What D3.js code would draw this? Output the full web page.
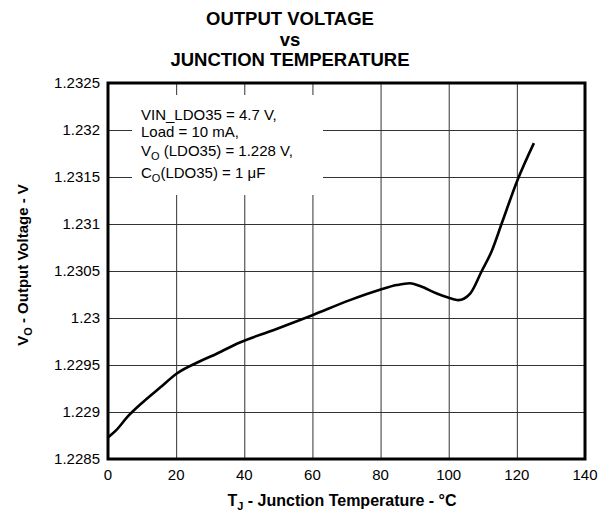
<!DOCTYPE html>
<html>
<head>
<meta charset="utf-8">
<script src="https://cdn.jsdelivr.net/npm/d3@7"></script>
<style>
  body { margin: 0; background: #fff; }
  svg { display: block; font-family: Arial, "Liberation Sans", Helvetica, sans-serif; }
  .grid line { stroke: #333; stroke-width: 1; }
  .tickLabel { font-size: 15px; fill: #000; }
</style>
</head>
<body>
<svg width="601" height="514"></svg>
<script>
// Junction temperature (°C) and output voltage (V)
const temps = [0, 2.5, 5.5, 10.4, 15.3, 20.2, 27, 31.9, 38.7, 48.5, 60, 71, 79.8, 84.7, 88.6, 91.6, 96.5, 101.4, 102.8, 106.3, 109.7, 112.6, 115.6, 120, 125]
const volts = [1.22873, 1.22881, 1.22894, 1.22911, 1.22926, 1.22941, 1.22954, 1.22962, 1.22974, 1.22987, 1.23003, 1.23019, 1.2303, 1.23035, 1.23037, 1.23034, 1.23026, 1.2302, 1.23019, 1.23026, 1.2305, 1.23071, 1.23101, 1.23145, 1.23186]

const xTicks = [0, 20, 40, 60, 80, 100, 120, 140]
const yTicks = [1.2285, 1.229, 1.2295, 1.23, 1.2305, 1.231, 1.2315, 1.232, 1.2325]

const titleLines = ['OUTPUT VOLTAGE', 'vs', 'JUNCTION TEMPERATURE']
const noteLines = [
  [['VIN_LDO35 = 4.7 V,']],
  [['Load = 10 mA,']],
  [['V'], ['O', 'sub'], [' (LDO35) = 1.228 V,']],
  [['C'], ['O', 'sub'], ['(LDO35) = 1 μF']]
]

const margin = { top: 83, right: 16, bottom: 55, left: 108 }
const width = 601
const height = 514
const innerW = width - margin.left - margin.right
const innerH = height - margin.top - margin.bottom

const svg = d3.select('svg')
const data = temps.map((t, i) => ({ t, v: volts[i] }))

const xScale = d3.scaleLinear().domain([0, 140]).range([0, innerW])
const yScale = d3.scaleLinear().domain([1.2285, 1.2325]).range([innerH, 0])

const g = svg.append('g')
  .attr('transform', 'translate(' + margin.left + ',' + margin.top + ')')

drawGrid()
drawNote()
drawCurve()
drawFrame()
drawTickLabels()
drawTitles()


function drawGrid () {
  g.append('g') // horizontal grid lines
    .attr('class', 'grid')
    .call(d3.axisLeft(yScale).tickValues(yTicks).tickSize(-innerW).tickFormat(''))
    .call((a) => a.select('.domain').remove())

  g.append('g') // vertical grid lines
    .attr('class', 'grid')
    .attr('transform', 'translate(0,' + innerH + ')')
    .call(d3.axisBottom(xScale).tickValues(xTicks).tickSize(-innerH).tickFormat(''))
    .call((a) => a.select('.domain').remove())
}


function drawNote () {
  g.append('rect') // white patch behind the conditions text
    .attr('x', 24).attr('y', 12)
    .attr('width', 191).attr('height', 100)
    .attr('fill', '#fff')

  const baselines = [37, 54, 73, 95]
  noteLines.forEach((parts, i) => {
    const text = g.append('text')
      .attr('x', 33)
      .attr('y', baselines[i])
      .attr('font-size', '15px')
    parts.forEach(([s, kind]) => {
      const span = text.append('tspan').text(s)
      if (kind === 'sub') span.attr('font-size', '11px').attr('dy', 4)
      else if (parts.length > 1 && s !== parts[0][0]) span.attr('dy', -4)
    })
  })
}


function drawCurve () {
  const line = d3.line() // smooth the read-off points like the original plot
    .curve(d3.curveMonotoneX)
    .x((d) => xScale(d.t))
    .y((d) => yScale(d.v))

  g.append('path')
    .datum(data)
    .attr('d', line)
    .attr('fill', 'none')
    .attr('stroke', '#000')
    .attr('stroke-width', 2.6)
    .attr('stroke-linejoin', 'round')
}


function drawFrame () {
  g.append('rect')
    .attr('width', innerW)
    .attr('height', innerH)
    .attr('fill', 'none')
    .attr('stroke', '#000')
    .attr('stroke-width', 3)
}


function drawTickLabels () {
  g.selectAll('.yLabel')
    .data(yTicks)
    .join('text')
      .attr('class', 'tickLabel')
      .attr('x', -8)
      .attr('y', (d) => yScale(d))
      .attr('dy', '0.36em')
      .attr('text-anchor', 'end')
      .text((d) => d)

  g.selectAll('.xLabel')
    .data(xTicks)
    .join('text')
      .attr('class', 'tickLabel')
      .attr('x', (d) => xScale(d))
      .attr('y', innerH + 21)
      .attr('text-anchor', 'middle')
      .text((d) => d)
}


function drawTitles () {
  svg.selectAll('.title')
    .data(titleLines)
    .join('text')
      .attr('x', 290)
      .attr('y', (d, i) => 25 + i * 20.5)
      .attr('text-anchor', 'middle')
      .attr('font-size', '18.5px')
      .attr('font-weight', 'bold')
      .text((d) => d)

  const xLab = svg.append('text') // x axis title
    .attr('x', 342)
    .attr('y', 506)
    .attr('text-anchor', 'middle')
    .attr('font-size', '16px')
    .attr('font-weight', 'bold')
  xLab.append('tspan').text('T')
  xLab.append('tspan').text('J').attr('font-size', '11px').attr('dy', 4)
  xLab.append('tspan').text(' - Junction Temperature - °C').attr('dy', -4)

  const yLab = svg.append('text') // y axis title
    .attr('transform', 'translate(28,' + (margin.top + innerH / 2 - 6) + ') rotate(-90)')
    .attr('text-anchor', 'middle')
    .attr('font-size', '15px')
    .attr('font-weight', 'bold')
  yLab.append('tspan').text('V')
  yLab.append('tspan').text('O').attr('font-size', '11px').attr('dy', 4)
  yLab.append('tspan').text(' - Output Voltage - V').attr('dy', -4)
}
</script>
</body>
</html>
